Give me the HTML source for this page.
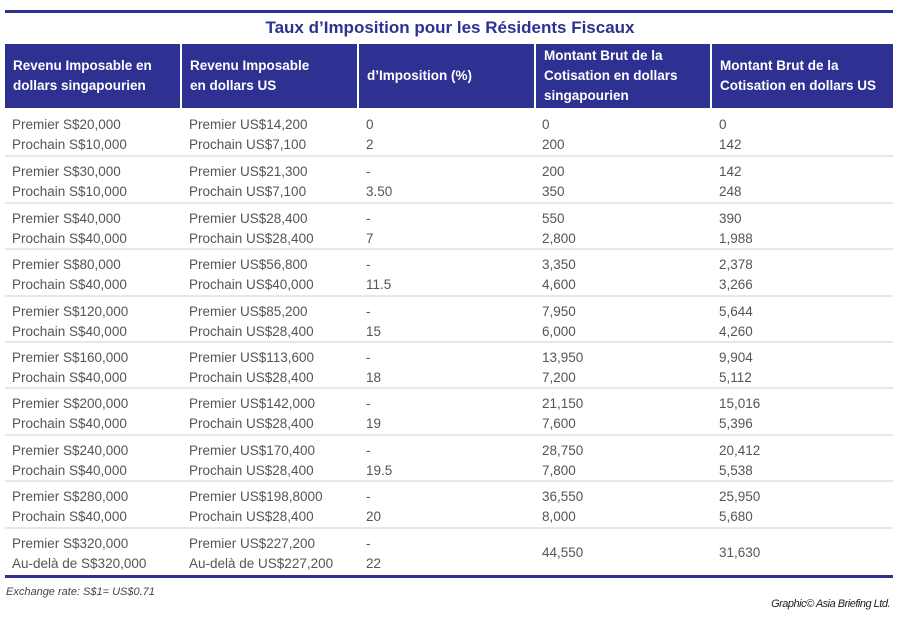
<!DOCTYPE html>
<html><head><meta charset="utf-8"><style>
body{margin:0;width:900px;height:622px;background:#fff;position:relative;font-family:"Liberation Sans",sans-serif;overflow:hidden}
.a{position:absolute}
.hd{position:absolute;top:44px;height:64px;background:#2e3191;color:#fff;font-weight:bold;font-size:13.5px;line-height:20px;display:flex;align-items:center;padding-left:8px;box-sizing:border-box}
.t{position:absolute;font-size:13.5px;color:#555;line-height:20px;white-space:nowrap}
.sep{position:absolute;left:5px;width:888px;height:2px;background:#e8e8e8}
</style></head><body>
<div class="a" style="left:5px;top:10px;width:888px;height:3px;background:#2e3191"></div>
<div class="a" style="left:0;width:900px;top:18px;text-align:center;font-size:17px;font-weight:bold;color:#2e3191">Taux d’Imposition pour les Résidents Fiscaux</div>
<div class="hd" style="left:5px;width:175px">Revenu Imposable en<br>dollars singapourien</div>
<div class="hd" style="left:182px;width:175px">Revenu Imposable<br>en dollars US</div>
<div class="hd" style="left:359px;width:175px">d’Imposition (%)</div>
<div class="hd" style="left:536px;width:174px">Montant Brut de la<br>Cotisation en dollars<br>singapourien</div>
<div class="hd" style="left:712px;width:181px">Montant Brut de la<br>Cotisation en dollars US</div>
<div id="rows"></div>
<div class="a" style="left:5px;top:575px;width:888px;height:3px;background:#2e3191"></div>
<div class="a" style="left:6px;top:586px;font-size:11px;font-style:italic;color:#444">Exchange rate: S$1= US$0.71</div>
<div class="a" style="right:10px;top:598px;font-size:11px;font-style:italic;color:#222;letter-spacing:-0.5px">Graphic© Asia Briefing Ltd.</div>
<script>
var d=[
["Premier S$20,000","Prochain S$10,000","Premier US$14,200","Prochain US$7,100","0","2","0","200","0","142"],
["Premier S$30,000","Prochain S$10,000","Premier US$21,300","Prochain US$7,100","-","3.50","200","350","142","248"],
["Premier S$40,000","Prochain S$40,000","Premier US$28,400","Prochain US$28,400","-","7","550","2,800","390","1,988"],
["Premier S$80,000","Prochain S$40,000","Premier US$56,800","Prochain US$40,000","-","11.5","3,350","4,600","2,378","3,266"],
["Premier S$120,000","Prochain S$40,000","Premier US$85,200","Prochain US$28,400","-","15","7,950","6,000","5,644","4,260"],
["Premier S$160,000","Prochain S$40,000","Premier US$113,600","Prochain US$28,400","-","18","13,950","7,200","9,904","5,112"],
["Premier S$200,000","Prochain S$40,000","Premier US$142,000","Prochain US$28,400","-","19","21,150","7,600","15,016","5,396"],
["Premier S$240,000","Prochain S$40,000","Premier US$170,400","Prochain US$28,400","-","19.5","28,750","7,800","20,412","5,538"],
["Premier S$280,000","Prochain S$40,000","Premier US$198,8000","Prochain US$28,400","-","20","36,550","8,000","25,950","5,680"],
["Premier S$320,000","Au-delà de S$320,000","Premier US$227,200","Au-delà de US$227,200","-","22","","44,550","","31,630"]];
var xs=[12,189,366,542,719],h="";
var tops=[110,157,204,250,297,343,389,436,482,529];
d.forEach(function(r,i){var y=tops[i];
for(var c=0;c<5;c++){
 if(i==9&&c>=3){h+='<div class="t" style="left:'+xs[c]+'px;top:'+(y+14)+'px">'+r[c*2+1]+'</div>';continue;}
 h+='<div class="t" style="left:'+xs[c]+'px;top:'+(y+5)+'px">'+r[c*2]+'</div>';
 h+='<div class="t" style="left:'+xs[c]+'px;top:'+(y+25)+'px">'+r[c*2+1]+'</div>';}
if(i<9)h+='<div class="sep" style="top:'+(tops[i+1]-2)+'px"></div>';});
document.getElementById("rows").innerHTML=h;
</script>
</body></html>
